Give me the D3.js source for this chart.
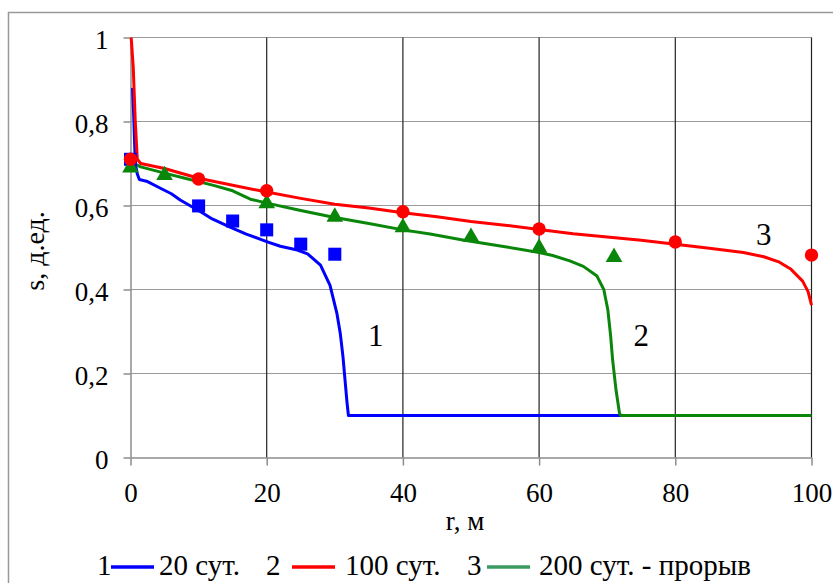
<!DOCTYPE html>
<html>
<head>
<meta charset="utf-8">
<script src="https://cdn.jsdelivr.net/npm/d3@7"></script>
<style>
  html, body { margin: 0; padding: 0; background: #fff; }
  svg { display: block; }
  text { font-family: "Liberation Serif", "Times New Roman", serif; fill: #000; }
</style>
</head>
<body>
<svg id="chart" width="833" height="583"></svg>
<script>
// ---- data ----
const xTicks = [0, 20, 40, 60, 80, 100];
const yTicks = [0, 0.2, 0.4, 0.6, 0.8, 1];

// curve 1 (blue) - 20 сут.
const blueR = [0.3, 0.5, 0.7, 1, 1.3, 2.5, 4.4, 6, 7.3, 10.3, 12, 14.7, 17, 20.2, 22, 24.5, 26, 27.9, 29.3, 30.3, 30.8, 31.2, 31.5, 31.8, 32, 72];
const blueS = [0.88, 0.80, 0.70, 0.675, 0.662, 0.657, 0.641, 0.628, 0.613, 0.585, 0.568, 0.548, 0.532, 0.513, 0.503, 0.494, 0.485, 0.458, 0.41, 0.344, 0.296, 0.24, 0.185, 0.13, 0.1, 0.1];

// curve 3 (red)
const redR = [0.1, 0.4, 0.7, 1, 1.5, 5, 10, 15, 20, 25, 30, 35, 40, 45, 50, 55, 60, 65, 70, 75, 80, 85, 90, 93, 95.3, 97, 98.7, 99.5, 100];
const redS = [1.0, 0.93, 0.80, 0.71, 0.70, 0.688, 0.665, 0.648, 0.632, 0.617, 0.603, 0.594, 0.583, 0.573, 0.562, 0.553, 0.543, 0.533, 0.525, 0.517, 0.508, 0.498, 0.488, 0.478, 0.465, 0.448, 0.42, 0.395, 0.363];

// curve 2 (green)
const greenR = [0.5, 1.5, 5, 8, 12.2, 15, 17.6, 20.2, 25, 29.8, 35, 40, 44, 48.8, 55, 60, 62, 64.5, 66.5, 68.5, 69.5, 70.1, 70.5, 70.8, 71.3, 71.8, 72, 100];
const greenS = [0.70, 0.692, 0.677, 0.665, 0.648, 0.635, 0.615, 0.605, 0.588, 0.572, 0.557, 0.542, 0.532, 0.518, 0.502, 0.488, 0.481, 0.468, 0.455, 0.432, 0.40, 0.351, 0.29, 0.232, 0.16, 0.106, 0.1, 0.1];

// measured points
const sqR = [0, 10, 15, 20, 25, 30];
const sqS = [0.71, 0.599, 0.563, 0.542, 0.508, 0.484];
const circR = [0, 10, 20, 40, 60, 80, 100];
const circS = [0.71, 0.663, 0.635, 0.585, 0.544, 0.513, 0.482];
const triR = [0, 5, 20, 30, 40, 50, 60, 71];
const triS = [0.69, 0.672, 0.605, 0.573, 0.548, 0.525, 0.499, 0.477];

// curve labels
const curveLabels = ["1", "2", "3"];
const curveLabelR = [36, 75, 93];
const curveLabelS = [0.265, 0.265, 0.505];

// legend
const legendNums = ["1", "2", "3"];
const legendTexts = ["20 сут.", "100 сут.", "200 сут. - прорыв"];
const legendColors = ["#0000ff", "#ff0000", "#3a9a62"];

const xTitle = "r, м";
const yTitle = "s, д.ед.";

// ---- drawing ----
const svg = d3.select("#chart");
const m = { left: 130.5, right: 811.5, top: 37.5, bottom: 457.5 };

const x = d3.scaleLinear().domain([0, 100]).range([m.left, m.right]);
const y = d3.scaleLinear().domain([0, 1]).range([m.bottom, m.top]);

// outer frame
svg.append("rect")
  .attr("x", 8.5).attr("y", 12.5).attr("width", 900).attr("height", 700)
  .attr("fill", "none").attr("stroke", "#999").attr("stroke-width", 1.5);

// horizontal gridlines
svg.append("g").selectAll("line").data(yTicks.filter(d => d > 0)).join("line")
  .attr("x1", m.left).attr("x2", m.right)
  .attr("y1", d => y(d)).attr("y2", d => y(d))
  .attr("stroke", "#9a9a9a").attr("stroke-width", 1.2);

// vertical gridlines
svg.append("g").selectAll("line").data(xTicks.filter(d => d > 0)).join("line")
  .attr("x1", d => x(d)).attr("x2", d => x(d))
  .attr("y1", m.top).attr("y2", m.bottom)
  .attr("stroke", "#222").attr("stroke-width", 1.2);

// axes
const fmt = d => String(d).replace(".", ",");
const yAxis = svg.append("g").attr("transform", `translate(${m.left},0)`)
  .call(d3.axisLeft(y).tickValues(yTicks).tickFormat(fmt).tickSize(7).tickSizeOuter(0).tickPadding(15));
const xAxis = svg.append("g").attr("transform", `translate(0,${m.bottom})`)
  .call(d3.axisBottom(x).tickValues(xTicks).tickFormat(fmt).tickSize(8).tickSizeOuter(0).tickPadding(17));
[yAxis, xAxis].forEach(a => {
  a.select(".domain").attr("stroke", "#8c8c8c").attr("stroke-width", 1.5);
  a.selectAll(".tick line").attr("stroke", "#8c8c8c").attr("stroke-width", 1.5);
  a.selectAll(".tick text").attr("font-family", "Liberation Serif, serif").attr("font-size", 27).attr("fill", "#000");
});
yAxis.selectAll(".tick text").attr("dy", "0.42em");

// axis titles
svg.append("text").attr("x", 465).attr("y", 530).attr("text-anchor", "middle")
  .attr("font-size", 27).text(xTitle);
svg.append("text").attr("transform", "translate(44,251) rotate(-90)").attr("text-anchor", "middle")
  .attr("font-size", 28).text(yTitle);

// lines
const line = d3.line().x(d => x(d[0])).y(d => y(d[1]));
const zip = (a, b) => a.map((v, i) => [v, b[i]]);
const g = svg.append("g");
g.append("path").datum(zip(blueR, blueS)).attr("d", line)
  .attr("fill", "none").attr("stroke", "#0000ff").attr("stroke-width", 3).attr("stroke-linejoin", "round");
g.append("path").datum(zip(greenR, greenS)).attr("d", line)
  .attr("fill", "none").attr("stroke", "#0a870a").attr("stroke-width", 3).attr("stroke-linejoin", "round");
g.append("path").datum(zip(redR, redS)).attr("d", line)
  .attr("fill", "none").attr("stroke", "#ff0000").attr("stroke-width", 3).attr("stroke-linejoin", "round");

// markers
g.append("g").selectAll("path").data(zip(sqR, sqS)).join("path")
  .attr("d", d3.symbol(d3.symbolSquare, 170))
  .attr("transform", d => `translate(${x(d[0])},${y(d[1])})`)
  .attr("fill", "#0000ff");
g.append("g").selectAll("path").data(zip(triR, triS)).join("path")
  .attr("d", d3.symbol(d3.symbolTriangle, 120))
  .attr("transform", d => `translate(${x(d[0])},${y(d[1])})`)
  .attr("fill", "#0a870a");
g.append("g").selectAll("path").data(zip(circR, circS)).join("path")
  .attr("d", d3.symbol(d3.symbolCircle, 140))
  .attr("transform", d => `translate(${x(d[0])},${y(d[1])})`)
  .attr("fill", "#ff0000");

// curve labels
svg.append("g").selectAll("text").data(curveLabels).join("text")
  .attr("x", (d, i) => x(curveLabelR[i])).attr("y", (d, i) => y(curveLabelS[i]))
  .attr("text-anchor", "middle").attr("font-size", 31).text(d => d);

// legend (layout positions)
const legY = 575;
const numX = [97, 266, 467];
const lineX = [111, 292, 487];
const textX = [159, 345, 539];
const lg = svg.append("g");
legendNums.forEach((n, i) => {
  lg.append("text").attr("x", numX[i]).attr("y", legY).attr("font-size", 29).text(n);
  lg.append("line").attr("x1", lineX[i]).attr("x2", lineX[i] + 43).attr("y1", legY - 8).attr("y2", legY - 8)
    .attr("stroke", legendColors[i]).attr("stroke-width", 3.5);
  lg.append("text").attr("x", textX[i]).attr("y", legY).attr("font-size", 29).text(legendTexts[i]);
});
</script>
</body>
</html>
